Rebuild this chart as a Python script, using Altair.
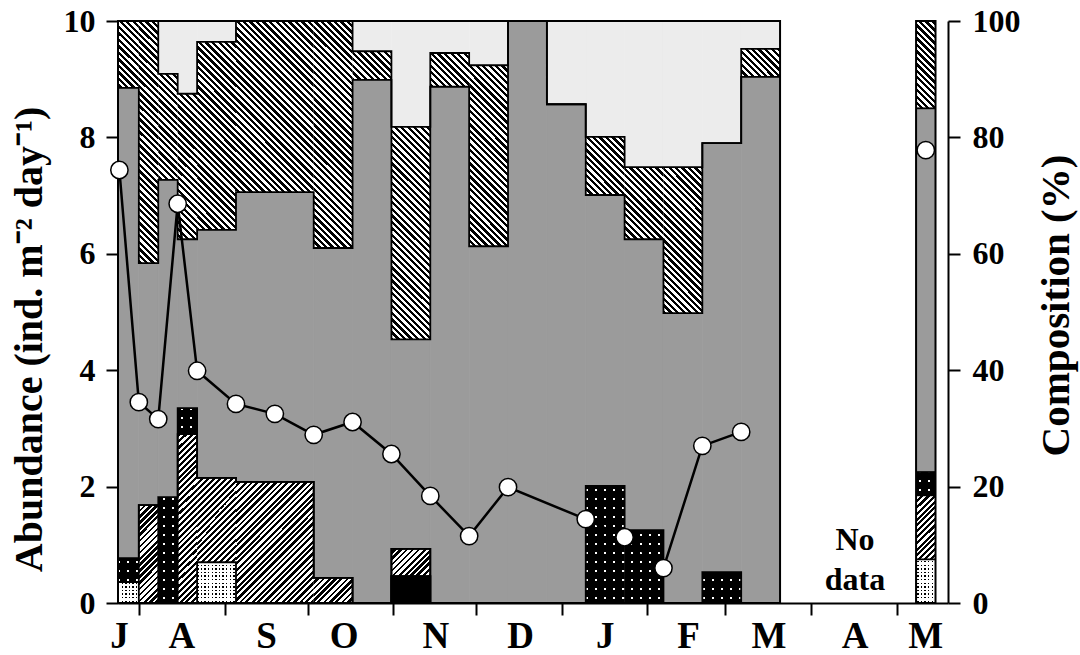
import math
import altair as alt

# ---------------- data ----------------
# sampling periods (days from 1 August); last bar is the separate May sample
bar_start = [-7.5, 0, 7, 14, 21, 35, 63, 77, 91, 105, 119, 133, 147, 161, 175, 189, 203, 217, 280]
bar_end = [0, 7, 14, 21, 35, 63, 77, 91, 105, 119, 133, 147, 161, 175, 189, 203, 217, 231, 287]
bar_group = [0] * 18 + [1]

# composition (%) of each class, stacked from bottom to top
comp_black = [0, 0, 0, 0, 0, 0, 0, 0, 4.6, 0, 0, 0, 0, 0, 0, 0, 0, 0, 0]
comp_wdot = [3.6, 0, 0, 0, 7.0, 0, 0, 0, 0, 0, 0, 0, 0, 0, 0, 0, 0, 0, 7.5]
comp_fhatch = [0, 16.8, 0, 29.0, 14.5, 20.8, 4.3, 0, 4.7, 0, 0, 0, 0, 0, 0, 0, 0, 0, 11.0]
comp_bdot = [4.1, 0, 18.2, 4.5, 0, 0, 0, 0, 0, 0, 0, 0, 0, 20.1, 12.5, 0, 5.3, 0, 4.0]
comp_gray = [80.8, 41.6, 54.5, 29.0, 42.6, 49.8, 56.7, 89.9, 36.0, 88.7, 61.3, 100, 85.7, 50.0, 50.0, 49.8, 73.7, 90.4, 62.5]
comp_bhatch = [11.5, 41.6, 18.2, 25.0, 32.3, 29.4, 39.0, 4.9, 36.5, 5.8, 31.1, 0, 0, 10.0, 12.4, 25.1, 0, 4.8, 15.0]
comp_lgray = [0, 0, 9.1, 12.5, 3.6, 0, 0, 5.2, 18.2, 5.5, 7.6, 0, 14.3, 19.9, 25.1, 25.1, 21.0, 4.8, 0]

# abundance (ind. m-2 day-1)
abund_day = [-7, 0, 7, 14, 21, 35, 49, 63, 77, 91, 105, 119, 133, 161, 175, 189, 203, 217, 283.5]
abund_val = [7.44, 3.45, 3.16, 6.86, 3.99, 3.42, 3.25, 2.89, 3.11, 2.56, 1.84, 1.15, 1.99, 1.44, 1.13, 0.60, 2.70, 2.94, 7.78]
abund_joined = [True] * 18 + [False]

month_ticks = [0, 31, 61, 91.5, 121.5, 152.5, 183, 211, 242, 273]
month_label_pos = [-7, 15.5, 46, 74, 107, 137.5, 168, 198, 227, 258, 283.5]
month_labels = ["J", "A", "S", "O", "N", "D", "J", "F", "M", "A", "M"]

no_data_text = ["No\ndata"]
no_data_day = [258]
no_data_pct = [10.8]

# ---------------- styling helpers ----------------
W, H = 830, 582
XMIN, XMAX = -7.5, 291.5
FONT = "Liberation Serif"
GRAY = "#9b9b9b"
LGRAY = "#ececec"
CLEAR = "rgba(0,0,0,0)"


def px(d):
    return (d - XMIN) / (XMAX - XMIN) * W


def py(p):
    return H * (1 - p / 100.0)


def stripe_stops(s0, s1, period, duty, on, off):
    def col(s):
        return on if (s % period) / period < duty else off

    L = s1 - s0
    stops = [{"offset": 0, "color": col(s0 + 1e-6)}]
    bounds = []
    for n in range(math.floor(s0 / period) - 1, math.ceil(s1 / period) + 2):
        for b in (n * period, n * period + duty * period):
            if s0 < b < s1:
                bounds.append(b)
    for b in sorted(bounds):
        t = round((b - s0) / L, 5)
        stops.append({"offset": t, "color": col(b - 1e-6)})
        stops.append({"offset": t, "color": col(b + 1e-6)})
    stops.append({"offset": 1, "color": col(s1 - 1e-6)})
    return stops


def hatch_up(X0, X1, Yt, Yb, period=6.0, duty=0.5):
    w, h = X1 - X0, Yb - Yt
    k = (w + h) / (w * w + h * h)
    return {"gradient": "linear", "x1": 0, "y1": 0, "x2": round(w * k, 5), "y2": round(h * k, 5),
            "stops": stripe_stops(X0 + Yt, X1 + Yb, period, duty, "#000000", "#ffffff")}


def hatch_down(X0, X1, Yt, Yb, period=6.5, duty=0.5):
    w, h = X1 - X0, Yb - Yt
    k = (w + h) / (w * w + h * h)
    return {"gradient": "linear", "x1": 0, "y1": 1, "x2": round(w * k, 5), "y2": round(1 - h * k, 5),
            "stops": stripe_stops(X0 - Yb, X1 - Yt, period, duty, "#000000", "#ffffff")}


def dot_rows(Yt, Yb, period, dot, bg):
    return {"gradient": "linear", "x1": 0, "y1": 0, "x2": 0, "y2": 1,
            "stops": stripe_stops(Yt, Yb, period, dot / period, CLEAR, bg)}


def dot_cols(X0, X1, period, dot, bg):
    return {"gradient": "linear", "x1": 0, "y1": 0, "x2": 1, "y2": 0,
            "stops": stripe_stops(X0, X1, period, dot / period, CLEAR, bg)}


cats = [("black", comp_black), ("wdot", comp_wdot), ("fhatch", comp_fhatch), ("bdot", comp_bdot),
        ("gray", comp_gray), ("bhatch", comp_bhatch), ("lgray", comp_lgray)]

solid_rects, grad_rects, overlays = [], [], []
n = len(bar_start)
for i in range(n):
    base = 0.0
    for name, vals in cats:
        v = vals[i]
        lo, hi = base, base + v
        base = hi
        if v <= 0:
            continue
        X0, X1 = px(bar_start[i]), px(bar_end[i])
        Yt, Yb = py(hi), py(lo)
        rec = {"x0": bar_start[i], "x1": bar_end[i], "y0": round(lo, 3), "y1": round(hi, 3)}
        if name in ("black", "gray", "lgray"):
            col = {"black": "#000000", "gray": GRAY, "lgray": LGRAY}[name]
            solid_rects.append(dict(rec, fill=col))
        elif name == "fhatch":
            grad_rects.append(dict(rec, fill=hatch_up(X0, X1, Yt, Yb)))
        elif name == "bhatch":
            grad_rects.append(dict(rec, fill=hatch_down(X0, X1, Yt, Yb)))
        elif name == "bdot":
            solid_rects.append(dict(rec, fill="#ffffff"))
            overlays.append(dict(rec, fill=dot_rows(Yt, Yb, 9.0, 2.2, "#000000")))
            overlays.append(dict(rec, fill=dot_cols(X0, X1, 9.0, 2.2, "#000000")))
        else:  # wdot
            solid_rects.append(dict(rec, fill="#000000"))
            overlays.append(dict(rec, fill=dot_rows(Yt, Yb, 3.6, 1.4, "#ffffff")))
            overlays.append(dict(rec, fill=dot_cols(X0, X1, 3.6, 1.4, "#ffffff")))

edges, outlines = [], []
for g in sorted(set(bar_group)):
    idx = [i for i in range(n) if bar_group[i] == g]
    outlines.append({"x0": min(bar_start[i] for i in idx), "x1": max(bar_end[i] for i in idx), "y0": 0, "y1": 100})
    for k in range(1, len(cats)):
        lvl = 0
        for i in idx:
            lvl = round(sum(cats[c][1][i] for c in range(k)), 3)
            edges.append({"x": bar_start[i], "y": lvl, "s": f"{g}-{k}"})
        edges.append({"x": bar_end[idx[-1]], "y": lvl, "s": f"{g}-{k}"})

abund = [{"d": d, "v": v, "j": j} for d, v, j in zip(abund_day, abund_val, abund_joined)]
nodata = [{"t": t, "d": d, "p": p} for t, d, p in zip(no_data_text, no_data_day, no_data_pct)]
months = [{"d": d, "m": m} for d, m in zip(month_label_pos, month_labels)]

# ---------------- scales & axes ----------------
xscale = alt.Scale(domain=[XMIN, XMAX], nice=False, zero=False)
cscale = alt.Scale(domain=[0, 100], nice=False)
ascale = alt.Scale(domain=[0, 10], nice=False)

ax_common = dict(domainColor="black", domainWidth=2, tickColor="black", tickWidth=2,
                 labelColor="black", labelFont=FONT, labelFontWeight="bold",
                 titleFont=FONT, titleFontWeight="bold", titleColor="black", grid=False)

xaxis = alt.Axis(values=month_ticks, labels=False, tickSize=12, title="", **ax_common)

raxis = alt.Axis(orient="right", values=[0, 20, 40, 60, 80, 100], format="d", tickSize=12, labelPadding=12,
                 labelFontSize=32, title="Composition (%)", titleFontSize=41, titleAngle=270,
                 titleX=108, titleY=284, titleAlign="center", titleBaseline="middle", **ax_common)

laxis = alt.Axis(orient="left", values=[0, 2, 4, 6, 8, 10], format="d", tickSize=12, labelPadding=11,
                 labelFontSize=32, title="Abundance (ind. m\u207b\u00b2 day\u207b\u00b9)", titleFontSize=40,
                 titleAngle=270, titleX=-89, titleY=318, titleAlign="center",
                 titleBaseline="middle", **ax_common)

# the axes are declared once per scale; other layers leave the axis unspecified so they merge
X = lambda f: alt.X(f, scale=xscale)
YC = lambda f: alt.Y(f, scale=cscale)

# ---------------- composition layers ----------------
solid_layer = alt.Chart(alt.Data(values=solid_rects)).mark_rect(strokeWidth=0.8).encode(
    x=alt.X("x0:Q", scale=xscale, axis=xaxis),
    x2="x1:Q",
    y=alt.Y("y0:Q", scale=cscale, axis=raxis),
    y2="y1:Q",
    fill=alt.Fill("fill:N", scale=None),
    stroke=alt.Stroke("fill:N", scale=None),
)

grad_layer = alt.Chart(alt.Data(values=grad_rects)).mark_rect().encode(
    x=X("x0:Q"), x2="x1:Q", y=YC("y0:Q"), y2="y1:Q",
    fill=alt.Fill("fill:N", scale=None),
)

dot_layer = alt.Chart(alt.Data(values=overlays)).mark_rect().encode(
    x=X("x0:Q"), x2="x1:Q", y=YC("y0:Q"), y2="y1:Q",
    fill=alt.Fill("fill:N", scale=None),
)

edge_lines = alt.Chart(alt.Data(values=edges)).mark_line(
    interpolate="step-after", color="black", strokeWidth=1.8
).encode(x=X("x:Q"), y=YC("y:Q"), detail="s:N")

outline = alt.Chart(alt.Data(values=outlines)).mark_rect(
    fillOpacity=0, stroke="black", strokeWidth=2
).encode(x=X("x0:Q"), x2="x1:Q", y=YC("y0:Q"), y2="y1:Q")

nodata_text = alt.Chart(alt.Data(values=nodata)).mark_text(
    font=FONT, fontWeight="bold", fontSize=32, lineBreak="\n", lineHeight=40,
    baseline="middle", align="center", color="black"
).encode(x=X("d:Q"), y=YC("p:Q"), text="t:N")

month_text = alt.Chart(alt.Data(values=months)).mark_text(
    font=FONT, fontWeight="bold", fontSize=37, baseline="alphabetic", align="center", color="black"
).encode(x=X("d:Q"), y=alt.value(H + 45), text="m:N")

comp_layer = alt.layer(solid_layer, grad_layer, dot_layer, edge_lines, outline, nodata_text, month_text)

# ---------------- abundance layers ----------------
ab_line = alt.Chart(alt.Data(values=abund)).transform_filter("datum.j").mark_line(
    color="black", strokeWidth=2.5
).encode(x=X("d:Q"), y=alt.Y("v:Q", scale=ascale))

ab_pts = alt.Chart(alt.Data(values=abund)).mark_point(
    shape="circle", filled=True, fill="white", stroke="black", strokeWidth=1.5, size=300, opacity=1
).encode(x=X("d:Q"), y=alt.Y("v:Q", scale=ascale, axis=laxis))

ab_layer = alt.layer(ab_line, ab_pts)

chart = alt.layer(comp_layer, ab_layer).resolve_scale(y="independent").properties(
    width=W, height=H, autosize="none",
    padding={"left": 118, "top": 21, "right": 132, "bottom": 52},
).configure(font=FONT).configure_view(strokeWidth=0)

chart.save("out.html", embed_options={"renderer": "svg", "actions": False})
